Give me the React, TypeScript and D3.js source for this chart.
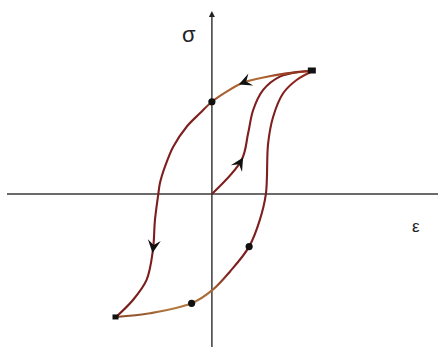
import React from "react";
import * as d3 from "d3";

// Strain (ε) / stress (σ) pairs, normalised so the load reversal point is (1, 1).
type Pt = [number, number];

const unloadingBranch: Pt[] = [
  [1, 1], [0.74, 0.981], [0.475, 0.941], [0.294, 0.9], [0.146, 0.832],
  [0, 0.75], [-0.119, 0.656], [-0.25, 0.547], [-0.383, 0.385], [-0.465, 0.222],
  [-0.515, 0.087], [-0.532, -0.008], [-0.564, -0.211], [-0.584, -0.455],
  [-0.647, -0.699], [-0.782, -0.862], [-0.95, -1.0],
];

const reloadingBranch: Pt[] = [
  [-0.95, -1.0], [-0.614, -0.97], [-0.201, -0.889], [0.007, -0.78],
  [0.178, -0.632], [0.369, -0.428], [0.475, -0.211], [0.535, 0],
  [0.557, 0.412], [0.607, 0.628], [0.706, 0.819], [0.839, 0.927], [1, 1],
];

const virginCurve: Pt[] = [
  [0, 0], [0.294, 0.276], [0.359, 0.493], [0.409, 0.683], [0.508, 0.846],
  [0.673, 0.954], [0.871, 0.994], [1, 1],
];

const circleMarkers: Pt[] = [[0, 0.75], [-0.201, -0.889], [0.369, -0.428]];
const squareMarkers: Pt[] = [[1, 1], [-0.95, -1.0]];

// Direction arrows: which curve and at which point index
const arrowMarks: { curve: "unloading" | "virgin"; index: number }[] = [
  { curve: "unloading", index: 3 },
  { curve: "unloading", index: 13 },
  { curve: "virgin", index: 1 },
];

const W = 438;
const H = 347;

const x = d3.scaleLinear().domain([-2.02, 2.25]).range([8, 439]);
const y = d3.scaleLinear().domain([1.47, -1.241]).range([13.2, 346.6]);

const line = d3
  .line<Pt>()
  .x((d) => x(d[0]))
  .y((d) => y(d[1]))
  .curve(d3.curveCatmullRom.alpha(0.5));

const curves: Record<string, Pt[]> = {
  unloading: unloadingBranch,
  virgin: virginCurve,
};

function arrowHead(pts: Pt[], i: number) {
  const p0 = pts[Math.max(0, i - 1)];
  const p1 = pts[Math.min(pts.length - 1, i + 1)];
  const ang =
    (Math.atan2(y(p1[1]) - y(p0[1]), x(p1[0]) - x(p0[0])) * 180) / Math.PI;
  return { cx: x(pts[i][0]), cy: y(pts[i][1]), ang };
}

export default function App() {
  const ox = x(0);
  const oy = y(0);
  return (
    <svg width={W} height={H} style={{ position: "absolute", left: 0, top: 0, background: "#fff" }}>
      <defs>
        <linearGradient id="gUnload" gradientUnits="userSpaceOnUse" x1="0" y1={y(1)} x2="0" y2={y(-1)}>
          <stop offset="0" stopColor="#8e2a18" />
          <stop offset="0.03" stopColor="#b06a36" />
          <stop offset="0.1" stopColor="#a85e30" />
          <stop offset="0.16" stopColor="#7e2020" />
          <stop offset="1" stopColor="#7a1c1c" />
        </linearGradient>
        <linearGradient id="gReload" gradientUnits="userSpaceOnUse" x1="0" y1={y(1)} x2="0" y2={y(-1)}>
          <stop offset="0" stopColor="#9a2a1a" />
          <stop offset="0.1" stopColor="#7e1e1e" />
          <stop offset="0.82" stopColor="#7e2020" />
          <stop offset="0.9" stopColor="#a86a36" />
          <stop offset="0.97" stopColor="#b27a40" />
          <stop offset="1" stopColor="#8a4a28" />
        </linearGradient>
      </defs>

      {/* axes */}
      <line x1={7} y1={oy} x2={W} y2={oy} stroke="#3a3a3a" strokeWidth={1.5} />
      <line x1={ox} y1={15} x2={ox} y2={H} stroke="#3a3a3a" strokeWidth={1.5} />
      <path
        d={`M${ox},${11} L${ox + 3},${17} L${ox - 3},${17} Z`}
        fill="#222"
      />

      {/* axis labels */}
      <text x={182} y={42} fontFamily="Liberation Sans, Arial, sans-serif" fontSize={22} fill="#222">
        σ
      </text>
      <text x={412} y={232} fontFamily="Liberation Sans, Arial, sans-serif" fontSize={17} fill="#222">
        ε
      </text>

      {/* hysteresis loop */}
      <path d={line(virginCurve) ?? ""} fill="none" stroke="#7e1e1e" strokeWidth={2.1} />
      <path d={line(reloadingBranch) ?? ""} fill="none" stroke="url(#gReload)" strokeWidth={2.1} />
      <path d={line(unloadingBranch) ?? ""} fill="none" stroke="url(#gUnload)" strokeWidth={2.1} />

      {/* direction arrows */}
      {arrowMarks.map((a, k) => {
        const h = arrowHead(curves[a.curve], a.index);
        return (
          <path
            key={k}
            transform={`translate(${h.cx},${h.cy}) rotate(${h.ang})`}
            d="M3,0 L-10,-6.5 L-5,0 L-10,6.5 Z"
            fill="#111"
          />
        );
      })}

      {/* markers */}
      {circleMarkers.map((d, i) => (
        <circle key={i} cx={x(d[0])} cy={y(d[1])} r={3.6} fill="#111" />
      ))}
      {squareMarkers.map((d, i) => (
        <rect
          key={i}
          x={x(d[0]) - (i === 0 ? 5 : 3.5)}
          y={y(d[1]) - (i === 0 ? 3.5 : 2.5)}
          width={i === 0 ? 8 : 6}
          height={i === 0 ? 6 : 5}
          fill="#111"
        />
      ))}
    </svg>
  );
}
